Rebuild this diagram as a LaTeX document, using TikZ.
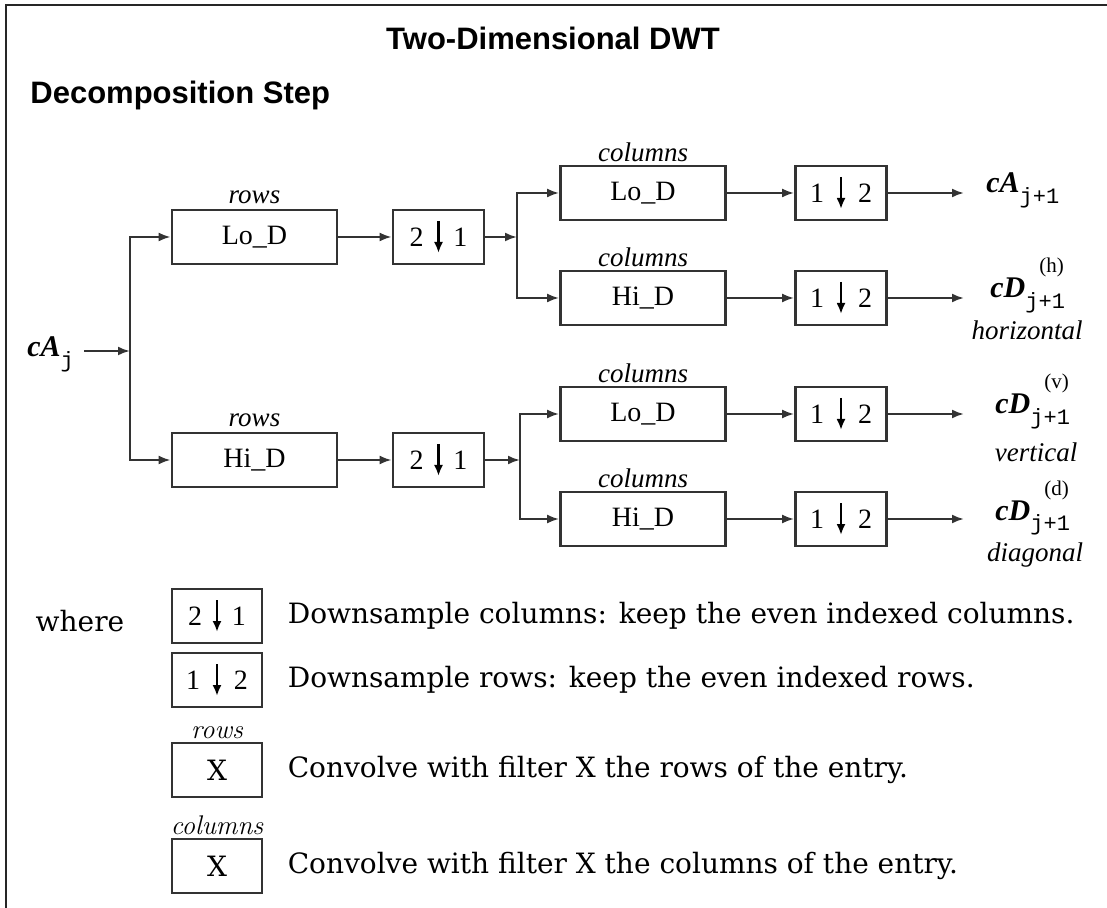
\documentclass[tikz,border=0pt]{standalone}
\usepackage{fontspec}
\usepackage{tikz}
\usetikzlibrary{arrows.meta, positioning}

\newfontfamily\tms{Liberation Serif}
\newfontfamily\hlv{Liberation Sans}
\newfontfamily\dvs{DejaVu Serif}
\newfontfamily\mno{Liberation Mono}

\newcommand{\cfont}{\tms\bfseries\itshape\fontsize{15}{17}\selectfont}
\newcommand{\sbfont}{\mno\fontsize{11}{12}\selectfont}
\newcommand{\spfont}{\tms\fontsize{10.5}{12}\selectfont}
\newcommand{\outsym}[3]{{\cfont #1}\rlap{\hspace{7pt}\raisebox{12.5pt}{\spfont #2}}\raisebox{-5.5pt}{\sbfont #3}}

\tikzset{
  filt/.style={draw=black!80, line width=1.4pt, minimum width=82.5pt, minimum height=27pt,
    inner sep=0pt, font=\tms\fontsize{14}{16}\selectfont},
  dsbox/.style={filt, minimum width=45.5pt},
  lgbox/.style={filt, minimum width=45pt},
  flow/.style={draw=black!80, line width=1.1pt, -{Latex[length=6pt,width=4.5pt]}},
  dnarr/.style={black, line width=1.4pt, -{Latex[length=5.5pt,width=4.5pt]}},
  dirlbl/.style={font=\tms\itshape\fontsize{13.5}{15}\selectfont, inner sep=1pt},
  lglbl/.style={font=\itshape\fontsize{13.5}{15}\selectfont, inner sep=1pt},
  outlbl/.style={inner sep=0pt, anchor=base west},
  legtxt/.style={font=\dvs\fontsize{14}{16}\selectfont, inner sep=0pt, anchor=west},
  head/.style={font=\hlv\bfseries\fontsize{15.5}{18}\selectfont, inner sep=0pt},
}

\begin{document}
\begin{tikzpicture}[x=0.5pt, y=-0.5pt]
    % Page and frame
    \useasboundingbox (0,0) rectangle (1107,908);
    \draw[black!85, line width=0.8pt] (6,908) -- (6,5) -- (1107,5);

    % Headings
    \node[head, anchor=base] (title) at (553,50) {Two-Dimensional DWT};
    \node[head, anchor=base west] (step) at (30,104) {Decomposition Step};

    % Input and first split
    \node[outlbl] (cAj) at (27,357) {{\cfont cA}\raisebox{-5.5pt}{\sbfont j}};
    \coordinate (s0) at (130,351);

    % Row filtering
    \node[filt] (lo1) at (254.5,237) {Lo\_D};
    \node[filt] (hi1) at (254.5,460) {Hi\_D};
    \node[dirlbl, above=1pt of lo1] (r1) {rows};
    \node[dirlbl, above=1pt of hi1] (r2) {rows};
    \node[dsbox] (ds1) at (438.5,237) {2\hspace{15pt}1};
    \node[dsbox] (ds2) at (438.5,460) {2\hspace{15pt}1};
    \coordinate (s1) at (517,237);
    \coordinate (s2) at (520,460);

    % Column filtering
    \node[filt] (lo2) at (643,193) {Lo\_D};
    \node[filt] (hi2) at (643,298) {Hi\_D};
    \node[filt] (lo3) at (643,414) {Lo\_D};
    \node[filt] (hi3) at (643,519) {Hi\_D};
    \foreach \b/\c in {lo2/c1, hi2/c2, lo3/c3, hi3/c4}
        \node[dirlbl, above=0pt of \b] (\c) {columns};
    \node[dsbox] (dc1) at (841,193) {1\hspace{17pt}2};
    \node[dsbox] (dc2) at (841,298) {1\hspace{17pt}2};
    \node[dsbox] (dc3) at (841,414) {1\hspace{17pt}2};
    \node[dsbox] (dc4) at (841,519) {1\hspace{17pt}2};

    % Outputs
    \coordinate (e1) at (964,193);
    \coordinate (e2) at (964,298);
    \coordinate (e3) at (964,414);
    \coordinate (e4) at (964,519);
    \node[outlbl] (o1) at (986,193) {\outsym{cA}{}{j+1}};
    \node[outlbl] (o2) at (990,298) {\outsym{cD}{(h)}{j+1}};
    \node[outlbl] (o3) at (995,414) {\outsym{cD}{(v)}{j+1}};
    \node[outlbl] (o4) at (995,520) {\outsym{cD}{(d)}{j+1}};
    \node[dirlbl] (n2) at (1027,330) {horizontal};
    \node[dirlbl] (n3) at (1036,452) {vertical};
    \node[dirlbl] (n4) at (1035,555) {diagonal};

    % Connectors
    \draw[flow] ([xshift=5pt]cAj.east |- s0) -- (s0);
    \draw[flow] (s0) |- (lo1);
    \draw[flow] (s0) |- (hi1);
    \draw[flow] (lo1) -- (ds1);
    \draw[flow] (hi1) -- (ds2);
    \draw[flow] (ds1) -- (s1);
    \draw[flow] (ds2) -- (s2);
    \draw[flow] (s1) |- (lo2);
    \draw[flow] (s1) |- (hi2);
    \draw[flow] (s2) |- (lo3);
    \draw[flow] (s2) |- (hi3);
    \draw[flow] (lo2) -- (dc1);
    \draw[flow] (hi2) -- (dc2);
    \draw[flow] (lo3) -- (dc3);
    \draw[flow] (hi3) -- (dc4);
    \draw[flow] (dc1) -- (e1);
    \draw[flow] (dc2) -- (e2);
    \draw[flow] (dc3) -- (e3);
    \draw[flow] (dc4) -- (e4);

    % Legend
    \node[font=\dvs\fontsize{14}{16}\selectfont] (where) at (80,621) {where};
    \node[lgbox] (lg1) at (217,616) {2\hspace{15pt}1};
    \node[lgbox] (lg2) at (217,680) {1\hspace{17pt}2};
    \node[lgbox, font=\dvs\fontsize{14}{16}\selectfont] (lg3) at (217,770) {X};
    \node[lgbox, font=\dvs\fontsize{14}{16}\selectfont] (lg4) at (217,866) {X};
    \node[lglbl, above=0pt of lg3] (lr) {rows};
    \node[lglbl, above=0pt of lg4] (lc) {columns};
    \node[legtxt, right=12pt of lg1] (t1) {Downsample columns: keep the even indexed columns.};
    \node[legtxt, right=12pt of lg2] (t2) {Downsample rows: keep the even indexed rows.};
    \node[legtxt, right=12pt of lg3] (t3) {Convolve with filter X the rows of the entry.};
    \node[legtxt, right=12pt of lg4] (t4) {Convolve with filter X the columns of the entry.};

    % Down arrows in the downsampling boxes
    \foreach \n in {ds1,ds2,dc1,dc2,dc3,dc4,lg1,lg2}
        \draw[dnarr] ([yshift=8pt]\n.center) -- ([yshift=-8pt]\n.center);
\end{tikzpicture}
\end{document}
